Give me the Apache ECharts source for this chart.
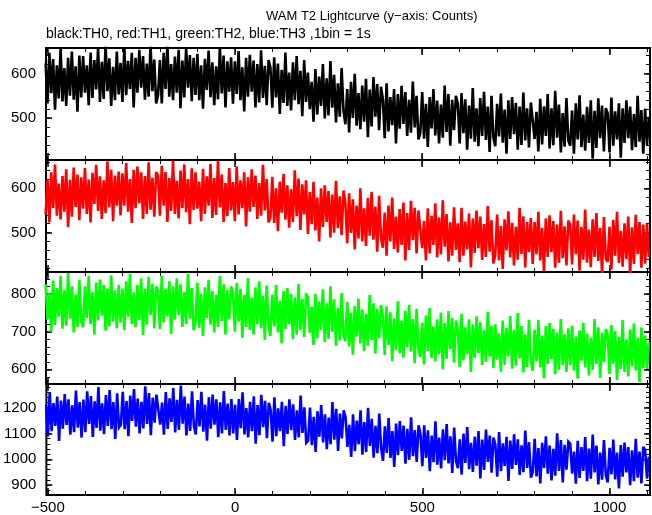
<!DOCTYPE html>
<html>
<head>
<meta charset="utf-8">
<script src="https://cdn.jsdelivr.net/npm/echarts@6/dist/echarts.min.js"></script>
<style>
html,body{margin:0;padding:0;background:#fff;}
#chart{width:652px;height:515px;}
</style>
</head>
<body>
<div id="chart"></div>
<script>
// time bins (1bin = 1s, read here every 5 s)
const tStart = -505;
const binStep = 5;

// TH0 (black)
const th0 = [
623,533,646,556,632,519,618,544,657,537,612,527,635,550,649,541,616,514,640,546,
639,557,618,529,647,545,630,564,658,536,626,543,665,560,634,527,615,540,649,553,
624,536,659,551,628,565,646,524,635,557,653,568,639,541,622,548,663,560,631,533,
551,630,533,646,565,664,548,621,540,638,557,653,522,629,546,657,568,641,538,635,
552,644,540,618,521,633,563,651,547,625,529,616,542,659,555,640,524,627,559,636,
532,627,554,650,540,614,515,635,548,642,559,629,524,621,535,652,545,617,529,630,
613,523,636,546,622,509,608,534,647,527,602,517,625,540,639,531,606,504,630,536,
602,520,581,492,610,508,593,527,621,499,589,506,628,523,597,490,578,503,612,516,
486,565,468,581,500,599,483,556,475,573,492,588,457,564,481,592,503,576,473,570,
543,455,578,470,547,484,565,443,554,476,572,487,558,460,541,467,582,479,550,452,
466,558,454,532,435,547,477,565,461,539,443,530,456,573,469,554,438,541,473,550,
533,443,556,466,542,429,528,454,567,447,522,437,545,460,559,451,526,424,550,456,
437,532,459,555,445,519,420,540,453,547,464,534,429,526,440,557,450,522,434,535,
535,453,514,425,543,441,526,460,554,432,522,439,561,456,530,423,511,436,545,449,
438,517,420,533,452,551,435,508,427,525,444,540,409,516,433,544,455,528,425,522,
511,423,546,438,515,452,533,411,522,444,540,455,526,428,509,435,550,447,518,420,
521,440,503
];
// TH1 (red)
const th1 = [
541,620,523,636,555,654,538,611,530,628,547,643,512,619,536,647,558,631,528,625,
554,646,542,620,523,635,565,653,549,627,531,618,544,661,557,642,526,629,561,638,
539,634,561,657,547,621,522,642,555,649,566,636,531,628,542,659,552,624,536,637,
628,538,651,561,637,524,623,549,662,542,617,532,640,555,654,546,621,519,645,551,
636,554,615,526,644,542,627,561,655,533,623,540,662,557,631,524,612,537,646,550,
614,526,649,541,618,555,636,514,625,547,643,558,629,531,612,538,653,550,621,523,
534,626,522,600,503,615,545,633,529,607,511,598,524,641,537,622,506,609,541,618,
497,592,519,615,505,579,480,600,513,607,524,594,489,586,500,617,510,582,494,595,
566,476,589,499,575,462,561,487,600,480,555,470,578,493,592,484,559,457,583,489,
466,545,448,561,480,579,463,536,455,553,472,568,437,544,461,572,483,556,453,550,
547,465,526,437,555,453,538,472,566,444,534,451,573,468,542,435,523,448,557,461,
521,433,556,448,525,462,543,421,532,454,550,465,536,438,519,445,560,457,528,430,
449,541,437,515,418,530,460,548,444,522,426,513,439,556,452,537,421,524,456,533,
429,524,451,547,437,511,412,532,445,539,456,526,421,518,432,549,442,514,426,527,
518,428,541,451,527,414,513,439,552,432,507,422,530,445,544,436,511,409,535,441,
434,513,416,529,448,547,431,504,423,521,440,536,405,512,429,540,451,524,421,518,
430,520,445
];
// TH2 (green)
const th2 = [
826,732,802,700,836,718,816,740,848,708,811,716,856,735,821,698,799,712,838,727,
712,821,737,848,721,806,692,831,730,839,743,824,703,814,715,850,727,810,709,825,
724,815,704,834,740,854,721,805,712,824,731,842,691,814,719,846,744,828,709,821,
809,707,849,725,813,741,834,694,821,732,842,744,826,713,806,721,854,735,817,704,
725,830,711,801,689,818,737,838,719,809,698,798,713,848,728,826,692,811,733,821,
804,700,830,727,814,684,798,713,843,705,791,693,818,720,834,709,796,678,823,715,
689,798,714,825,698,783,669,808,707,816,720,801,680,791,692,827,704,787,686,802,
791,697,767,665,801,683,781,705,813,673,776,681,821,700,786,663,764,677,803,692,
675,780,661,751,639,768,687,788,669,759,648,748,663,798,678,776,642,761,683,771,
742,638,768,665,752,622,736,651,781,643,729,631,756,658,772,647,734,616,761,653,
633,724,613,743,649,763,630,714,621,733,640,751,600,723,628,755,653,737,618,730,
708,606,748,624,712,640,733,593,720,631,741,643,725,612,705,620,753,634,716,603,
720,626,696,594,730,612,710,634,742,602,705,610,750,629,715,592,693,606,732,621,
596,705,621,732,605,690,576,715,614,723,627,708,587,698,599,734,611,694,593,709,
611,716,597,687,575,704,623,724,605,695,584,684,599,734,614,712,578,697,619,707,
692,588,718,615,702,572,686,601,731,593,679,581,706,608,722,597,684,566,711,603,
690,601,672
];
// TH3 (blue)
const th3 = [
1211,1088,1260,1109,1217,1129,1242,1071,1227,1118,1252,1133,1232,1095,1209,1105,1266,1122,1221,1084,
1231,1105,1263,1137,1244,1086,1224,1121,1279,1111,1216,1097,1248,1129,1268,1116,1221,1079,1255,1123,
1133,1261,1116,1225,1089,1246,1148,1271,1126,1235,1100,1222,1119,1282,1137,1256,1093,1238,1142,1250,
1249,1134,1219,1095,1260,1117,1236,1144,1275,1104,1230,1114,1285,1138,1242,1092,1215,1110,1263,1128,
1096,1229,1127,1261,1107,1211,1072,1240,1118,1250,1134,1232,1085,1220,1100,1264,1114,1215,1092,1233,
1100,1211,1075,1233,1120,1259,1096,1198,1085,1222,1109,1243,1060,1210,1093,1249,1124,1226,1082,1218,
1191,1068,1240,1089,1197,1109,1222,1051,1207,1098,1232,1113,1212,1075,1189,1085,1246,1102,1201,1064,
1072,1200,1055,1164,1028,1185,1087,1210,1065,1174,1039,1161,1058,1221,1076,1195,1032,1177,1081,1189,
1163,1048,1133,1009,1174,1031,1150,1058,1189,1018,1144,1028,1199,1052,1156,1006,1129,1024,1177,1042,
994,1127,1025,1159,1005,1109,970,1138,1016,1148,1032,1130,983,1118,998,1162,1012,1113,990,1131,
1099,973,1131,1005,1112,954,1092,989,1147,979,1084,965,1116,997,1136,984,1089,947,1123,991,
966,1077,941,1099,986,1125,962,1064,951,1088,975,1109,926,1076,959,1115,990,1092,948,1084,
1056,933,1105,954,1062,974,1087,916,1072,963,1097,978,1077,940,1054,950,1111,967,1066,929,
951,1079,934,1043,907,1064,966,1089,944,1053,918,1040,937,1100,955,1074,911,1056,960,1068,
1060,945,1030,906,1071,928,1047,955,1086,915,1041,925,1096,949,1053,903,1026,921,1074,939,
911,1044,942,1076,922,1026,887,1055,933,1065,949,1047,900,1035,915,1079,929,1030,907,1048,
1035,925,1010
];

const seriesValues = [th0, th1, th2, th3];
const seriesNames = ['TH0', 'TH1', 'TH2', 'TH3'];
const seriesColors = ['#000000', '#ff0000', '#00ff00', '#0000ff'];

// axes
const xRange = [-504, 1108];
const xMajorTicks = [-500, 0, 500, 1000];
const xMinorTicks = [-500,-400,-300,-200,-100,0,100,200,300,400,500,600,700,800,900,1000,1100];
const yRanges = [[406, 657], [411, 664], [561, 859], [862, 1291]];
const yMajorTicks = [[500, 600], [500, 600], [600, 700, 800], [900, 1000, 1100, 1200]];
const yMinorStep = 20;

const titleText = 'WAM T2 Lightcurve (y\u2212axis: Counts)';
const subtitleText = 'black:TH0, red:TH1, green:TH2, blue:TH3 ,1bin = 1s';

const FONT = "'Liberation Sans', Arial, Helvetica, sans-serif";
const panelTops = [48, 160, 272, 384];
const panelH = 112;

function fmtX(v) { return v < 0 ? '\u2212' + Math.abs(v) : String(v); }
function fmtY(v) { return String(v); }

const grids = [], xAxes = [], yAxes = [], series = [];
for (let g = 0; g < 4; g++) {
  grids.push({ left: 46, right: 2, top: panelTops[g], height: panelH,
    show: true, borderColor: '#000', borderWidth: 2, backgroundColor: 'transparent' });
  const yMinor = [];
  for (let v = Math.ceil(yRanges[g][0] / yMinorStep) * yMinorStep; v <= yRanges[g][1]; v += yMinorStep) yMinor.push(v);

  const baseX = { type: 'value', gridIndex: g, min: xRange[0], max: xRange[1],
    axisLine: { show: false, onZero: false }, splitLine: { show: false } };
  const baseY = { type: 'value', gridIndex: g, min: yRanges[g][0], max: yRanges[g][1],
    axisLine: { show: false, onZero: false }, splitLine: { show: false } };
  const xi = xAxes.length;
  ['bottom', 'top'].forEach(pos => {
    xAxes.push(Object.assign({}, baseX, { position: pos,
      axisTick: { show: true, inside: true, length: 7, customValues: xMajorTicks, lineStyle: { color: '#000', width: 1.5 } },
      axisLabel: { show: (pos === 'bottom' && g === 3), customValues: xMajorTicks, formatter: fmtX, margin: 5,
        color: '#000', fontSize: 15, fontFamily: FONT } }));
    xAxes.push(Object.assign({}, baseX, { position: pos,
      axisTick: { show: true, inside: true, length: 4, customValues: xMinorTicks, lineStyle: { color: '#000', width: 1 } },
      axisLabel: { show: false } }));
  });
  const yi = yAxes.length;
  ['left', 'right'].forEach(pos => {
    yAxes.push(Object.assign({}, baseY, { position: pos,
      axisTick: { show: true, inside: true, length: 6, customValues: yMajorTicks[g], lineStyle: { color: '#000', width: 1.5 } },
      axisLabel: { show: pos === 'left', customValues: yMajorTicks[g], formatter: fmtY, margin: 10,
        color: '#000', fontSize: 15, fontFamily: FONT } }));
    yAxes.push(Object.assign({}, baseY, { position: pos,
      axisTick: { show: true, inside: true, length: 4, customValues: yMinor, lineStyle: { color: '#000', width: 1 } },
      axisLabel: { show: false } }));
  });
  series.push({
    name: seriesNames[g], type: 'line', xAxisIndex: xi, yAxisIndex: yi,
    data: seriesValues[g].map((v, i) => [tStart + i * binStep, v]),
    showSymbol: false, symbol: 'none', clip: true,
    lineStyle: { color: seriesColors[g], width: 2.6, join: 'miter', miterLimit: 3 }, itemStyle: { color: seriesColors[g] },
    z: 1
  });
}

const chart = echarts.init(document.getElementById('chart'), null, { renderer: 'canvas' });
chart.setOption({
  animation: false,
  backgroundColor: '#fff',
  title: [
    { text: titleText, left: 266, top: 10, padding: 0,
      textStyle: { fontSize: 13, fontWeight: 'normal', color: '#000', fontFamily: FONT } },
    { text: subtitleText, left: 46, top: 27, padding: 0,
      textStyle: { fontSize: 14, fontWeight: 'normal', color: '#000', fontFamily: FONT } }
  ],
  grid: grids,
  xAxis: xAxes,
  yAxis: yAxes,
  series: series
});
</script>
</body>
</html>
